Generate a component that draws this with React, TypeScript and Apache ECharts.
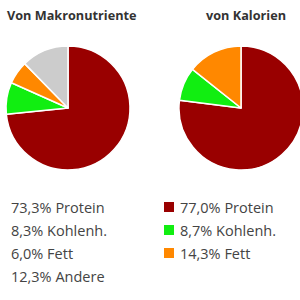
import React, { useEffect, useRef } from "react";
import * as echarts from "echarts";

const macroNames = ["Protein", "Kohlenh.", "Fett", "Andere"];
const macroValues = [73.3, 8.3, 6.0, 12.3];
const calNames = ["Protein", "Kohlenh.", "Fett"];
const calValues = [77.0, 8.7, 14.3];
const colors = ["#990000", "#11ee11", "#ff8800", "#cccccc"];
const titles = ["Von Makronutriente", "von Kalorien"];

const fmt = (v: number) => v.toFixed(1).replace(".", ",") + "%";

export default function App() {
  const ref = useRef<HTMLDivElement>(null);
  useEffect(() => {
    if (!ref.current) return;
    const chart = echarts.init(ref.current, null, { renderer: "svg" });
    const font = "Open Sans, sans-serif";
    const legendText = { fontSize: 14.5, color: "#444", fontFamily: font, lineHeight: 16 };
    chart.setOption({
      animation: false,
      color: colors,
      title: [
        {
          text: titles[0],
          left: 2,
          top: 3,
          textStyle: { fontSize: 12.7, fontWeight: "bold", color: "#333", fontFamily: font },
        },
        {
          text: titles[1],
          left: 241,
          textAlign: "center",
          top: 3,
          textStyle: { fontSize: 12.7, fontWeight: "bold", color: "#333", fontFamily: font },
        },
      ],
      legend: [
        {
          orient: "vertical",
          left: 0,
          top: 194,
          itemWidth: 0,
          itemHeight: 12,
          itemGap: 7,
          icon: "rect",
          selectedMode: false,
          data: macroNames,
          textStyle: legendText,
          formatter: (n: string) => fmt(macroValues[macroNames.indexOf(n)]) + " " + n,
        },
        {
          orient: "vertical",
          left: 157,
          top: 194,
          itemWidth: 12,
          itemHeight: 12,
          itemGap: 7,
          icon: "rect",
          selectedMode: false,
          data: calNames,
          textStyle: legendText,
          formatter: (n: string) => fmt(calValues[calNames.indexOf(n)]) + " " + n,
        },
      ],
      series: [
        {
          type: "pie",
          center: [68, 108],
          radius: 62,
          startAngle: 90,
          label: { show: false },
          labelLine: { show: false },
          itemStyle: { borderColor: "#fff", borderWidth: 1.5 },
          emphasis: { disabled: true },
          data: macroNames.map((n, i) => ({ name: n, value: macroValues[i] })),
        },
        {
          type: "pie",
          center: [241, 108],
          radius: 62,
          startAngle: 90,
          label: { show: false },
          labelLine: { show: false },
          itemStyle: { borderColor: "#fff", borderWidth: 1.5 },
          emphasis: { disabled: true },
          data: calNames.map((n, i) => ({ name: n, value: calValues[i] })),
        },
      ],
    });
    return () => chart.dispose();
  }, []);
  return <div ref={ref} style={{ width: 300, height: 300, position: "absolute", left: 0, top: 0 }} />;
}
